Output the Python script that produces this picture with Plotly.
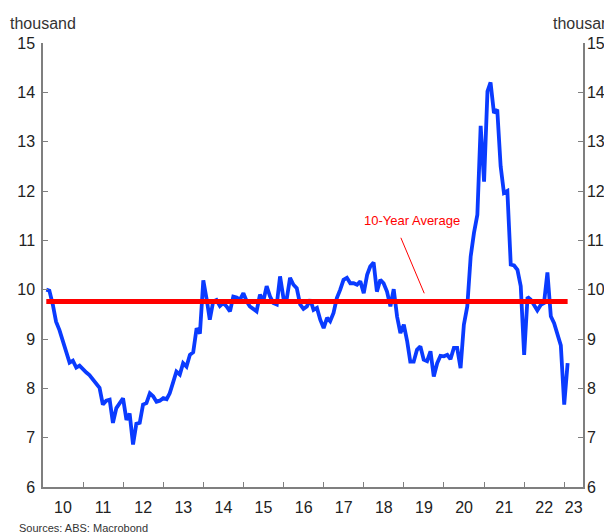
import pandas as pd
import plotly.graph_objects as go

# Monthly values (thousand), Jan 2010 - Jan 2023
values = [
    10.00, 9.98, 9.70, 9.35, 9.18, 8.98, 8.75, 8.52, 8.56, 8.42,
    8.46, 8.38, 8.32, 8.27, 8.18, 8.10, 8.01, 7.67, 7.75, 7.77,
    7.30, 7.60, 7.70, 7.80, 7.36, 7.49, 6.86, 7.28, 7.30, 7.67,
    7.70, 7.90, 7.84, 7.73, 7.75, 7.80, 7.78, 7.90, 8.12, 8.34,
    8.28, 8.51, 8.44, 8.68, 8.73, 9.22, 9.11, 10.19, 9.80, 9.39,
    9.76, 9.79, 9.67, 9.73, 9.66, 9.56, 9.86, 9.84, 9.80, 9.93,
    9.76, 9.66, 9.61, 9.56, 9.90, 9.76, 10.07, 9.86, 9.73, 9.70,
    10.27, 9.83, 9.83, 10.24, 10.10, 10.03, 9.70, 9.61, 9.66, 9.80,
    9.59, 9.63, 9.39, 9.22, 9.43, 9.36, 9.53, 9.83, 10.00, 10.20,
    10.24, 10.13, 10.13, 10.10, 10.17, 9.93, 10.30, 10.47, 10.55, 9.96,
    10.20, 10.13, 9.96, 9.66, 10.01, 9.45, 9.12, 9.29, 8.95, 8.54,
    8.54, 8.78, 8.85, 8.58, 8.55, 8.75, 8.24, 8.51, 8.66, 8.65,
    8.68, 8.59, 8.82, 8.82, 8.41, 9.29, 9.66, 10.67, 11.15, 11.52,
    13.32, 12.19, 14.02, 14.20, 13.58, 13.65, 12.50, 11.96, 12.00, 10.51,
    10.49, 10.40, 10.07, 8.68, 9.85, 9.80, 9.69, 9.58, 9.69, 9.73,
    10.35, 9.46, 9.32, 9.09, 8.87, 7.67, 8.51,
]
dates = pd.date_range("2010-01-31", periods=len(values), freq="ME").strftime("%Y-%m-%d").tolist()

avg_value = 9.76
avg_label = "10-Year Average"

years = list(range(2010, 2024))
year_labels = [str(y)[2:] for y in years]
x_end = "2023-06-20"
# label positions: middle of each (visible) year
label_pos = []
for y in years:
    start = pd.Timestamp(f"{y}-01-01")
    end = min(pd.Timestamp(f"{y + 1}-01-01"), pd.Timestamp(x_end))
    label_pos.append((start + (end - start) / 2).strftime("%Y-%m-%d"))
boundary_ticks = [f"{y}-01-01" for y in years[1:]]

y_ticks = list(range(6, 16))

axis_color = "#7f7f7f"
font_fam = "Liberation Sans, Arial, sans-serif"

fig = go.Figure()
fig.add_trace(go.Scatter(
    x=dates, y=values, mode="lines",
    line=dict(color="#0A3BFF", width=3.8),
    showlegend=False, hoverinfo="skip",
))
fig.add_trace(go.Scatter(
    x=[dates[0], dates[-1]], y=[avg_value, avg_value], mode="lines",
    line=dict(color="#FF0000", width=5),
    showlegend=False, hoverinfo="skip",
))
# invisible trace for right axis
fig.add_trace(go.Scatter(
    x=[dates[0]], y=[avg_value], yaxis="y2", mode="markers",
    marker=dict(opacity=0), showlegend=False, hoverinfo="skip",
))

fig.update_layout(
    width=604, height=524,
    margin=dict(l=35, r=29, t=35, b=45, autoexpand=False),
    paper_bgcolor="white", plot_bgcolor="white",
    font=dict(family=font_fam, color="#222222", size=16),
    xaxis=dict(
        range=["2010-01-01", x_end], automargin=False,
        tickmode="array", tickvals=label_pos, ticktext=year_labels,
        ticks="", showgrid=False, zeroline=False,
        showline=True, linecolor=axis_color, linewidth=1.5,
        tickfont=dict(size=16, color="#222222"),
        ticklabelstandoff=5,
        minor=dict(tickmode="array", tickvals=boundary_ticks, ticks="inside",
                   ticklen=5, tickcolor=axis_color, tickwidth=1, showgrid=False),
    ),
    yaxis=dict(
        range=[6, 15], tickmode="array", tickvals=y_ticks, automargin=False,
        ticks="inside", ticklen=5, tickcolor=axis_color, tickwidth=1,
        showgrid=False, zeroline=False,
        showline=True, linecolor=axis_color, linewidth=1.5,
        tickfont=dict(size=16, color="#222222"),
        ticklabelstandoff=3,
    ),
    yaxis2=dict(
        range=[6, 15], tickmode="array", tickvals=y_ticks, automargin=False,
        overlaying="y", side="right", anchor="x",
        ticks="inside", ticklen=5, tickcolor=axis_color, tickwidth=1,
        showgrid=False, zeroline=False,
        showline=True, linecolor=axis_color, linewidth=1.5,
        tickfont=dict(size=16, color="#222222"),
        ticklabelstandoff=-1,
    ),
)

fig.add_annotation(text="thousand", xref="paper", yref="paper",
                   x=-0.065, y=1.043, xanchor="left", yanchor="middle",
                   showarrow=False, font=dict(size=16, color="#333333"))
fig.add_annotation(text="thousand", xref="paper", yref="paper",
                   x=0.94, y=1.043, xanchor="left", yanchor="middle",
                   showarrow=False, font=dict(size=16, color="#333333"))
fig.add_annotation(text=avg_label, xref="paper", yref="paper",
                   x=0.684, y=0.601, xanchor="center", yanchor="middle",
                   showarrow=False, font=dict(size=13, color="#FF0000"))
fig.add_annotation(text="", xref="paper", yref="paper",
                   x=0.706, y=0.4363, ax=-24, ay=-57,
                   showarrow=True, arrowhead=0, arrowwidth=1, arrowcolor="#FF0000")
fig.add_annotation(text="Sources: ABS; Macrobond", xref="paper", yref="paper",
                   x=-0.048, y=-0.074, xanchor="left", yanchor="top",
                   showarrow=False, font=dict(size=11, color="#333333"))

fig.write_html("out.html")
